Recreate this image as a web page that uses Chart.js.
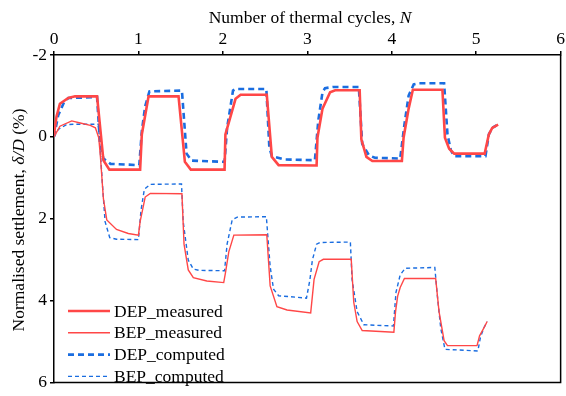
<!DOCTYPE html>
<html>
<head>
<meta charset="utf-8">
<script src="https://cdn.jsdelivr.net/npm/chart.js@4.4.1/dist/chart.umd.min.js"></script>
<style>
  html, body { margin: 0; padding: 0; background: #fff; }
  #wrap { width: 566px; height: 396px; }
</style>
</head>
<body>
<div id="wrap"><canvas id="settleChart" width="566" height="396"></canvas></div>
<script>
// tick labels
const xTicks = [0, 1, 2, 3, 4, 5, 6];
const yTicks = [-2, 0, 2, 4, 6];

// [N, settlement %]
const depMeasured = [
  [0, -0.06], [0.03, -0.5], [0.07, -0.81], [0.17, -0.95], [0.25, -0.99], [0.51, -0.99],
  [0.585, 0.57], [0.656, 0.80], [1.02, 0.80], [1.04, -0.06], [1.12, -0.99], [1.475, -0.99],
  [1.55, 0.61], [1.62, 0.80], [2.02, 0.80], [2.03, -0.06], [2.08, -0.42], [2.15, -0.93],
  [2.21, -1.03], [2.52, -1.03], [2.58, 0.49], [2.66, 0.69], [3.11, 0.70], [3.12, 0.02],
  [3.18, -0.69], [3.27, -1.09], [3.33, -1.14], [3.62, -1.14], [3.64, 0.06], [3.70, 0.49],
  [3.77, 0.59], [4.12, 0.59], [4.14, 0.02], [4.20, -0.69], [4.25, -1.15], [4.60, -1.15],
  [4.63, 0.02], [4.68, 0.29], [4.74, 0.41], [5.10, 0.41], [5.15, -0.06], [5.19, -0.22], [5.26, -0.30]
];
const bepMeasured = [
  [0, 0], [0.07, -0.26], [0.21, -0.39], [0.31, -0.34], [0.43, -0.28], [0.49, -0.22],
  [0.53, 0.02], [0.55, 0.49], [0.585, 1.51], [0.625, 2.03], [0.74, 2.26], [0.88, 2.36],
  [1.0, 2.40], [1.02, 2.07], [1.08, 1.47], [1.14, 1.38], [1.515, 1.39], [1.54, 2.62],
  [1.59, 3.25], [1.65, 3.44], [1.81, 3.52], [2.01, 3.56], [2.03, 3.33], [2.07, 2.81],
  [2.13, 2.40], [2.52, 2.39], [2.56, 3.64], [2.64, 4.15], [2.76, 4.23], [3.04, 4.30],
  [3.08, 3.48], [3.14, 3.05], [3.19, 2.99], [3.52, 2.99], [3.55, 4.04], [3.59, 4.51],
  [3.65, 4.73], [4.025, 4.77], [4.045, 4.27], [4.07, 3.89], [4.10, 3.68], [4.15, 3.46],
  [4.52, 3.46], [4.56, 4.27], [4.62, 4.98], [4.66, 5.10], [5.01, 5.10], [5.04, 4.86],
  [5.09, 4.67], [5.13, 4.51]
];
const depComputed = [
  [0, 0], [0.05, -0.53], [0.12, -0.85], [0.17, -0.95], [0.51, -0.97], [0.545, 0.17],
  [0.585, 0.53], [0.67, 0.66], [1.01, 0.69], [1.04, -0.14], [1.08, -0.75], [1.13, -1.11],
  [1.515, -1.13], [1.57, 0.41], [1.63, 0.58], [2.02, 0.61], [2.05, -0.22], [2.12, -1.13],
  [2.15, -1.17], [2.515, -1.17], [2.55, 0.25], [2.58, 0.47], [2.72, 0.55], [3.09, 0.57],
  [3.13, -0.4], [3.18, -1.09], [3.21, -1.19], [3.31, -1.22], [3.61, -1.22], [3.65, 0.17],
  [3.73, 0.45], [3.80, 0.51], [4.10, 0.53], [4.15, -0.3], [4.20, -1.01], [4.26, -1.28],
  [4.32, -1.31], [4.62, -1.31], [4.66, -0.06], [4.70, 0.33], [4.74, 0.47], [5.11, 0.47],
  [5.15, -0.06], [5.19, -0.22], [5.24, -0.28]
];
const bepComputed = [
  [0, 0], [0.05, -0.18], [0.15, -0.30], [0.23, -0.31], [0.525, -0.31], [0.545, 0.25],
  [0.575, 1.2], [0.605, 2.07], [0.66, 2.46], [0.74, 2.50], [1.0, 2.51], [1.03, 1.8],
  [1.07, 1.28], [1.14, 1.16], [1.51, 1.15], [1.53, 2.07], [1.59, 3.01], [1.65, 3.23],
  [1.72, 3.26], [2.02, 3.27], [2.05, 2.62], [2.11, 2.03], [2.17, 1.96], [2.515, 1.95],
  [2.56, 3.17], [2.60, 3.72], [2.66, 3.88], [2.99, 3.94], [3.03, 3.5], [3.06, 3.01],
  [3.11, 2.62], [3.15, 2.58], [3.51, 2.57], [3.53, 3.48], [3.59, 4.27], [3.67, 4.59],
  [4.02, 4.62], [4.05, 3.80], [4.10, 3.37], [4.16, 3.21], [4.51, 3.19], [4.54, 3.88],
  [4.58, 4.67], [4.63, 5.19], [5.02, 5.23], [5.05, 4.90], [5.09, 4.67], [5.13, 4.51]
];

const RED = '#ff4747';
const BLUE = '#1a6de0';
const FONT = '"Liberation Serif", "Times New Roman", serif';
const FS = 17.5;

const toPts = arr => arr.map(p => ({ x: p[0], y: p[1] }));

const series = [
  { label: 'DEP_measured', data: depMeasured, color: RED, width: 2.6, dash: [] },
  { label: 'BEP_measured', data: bepMeasured, color: RED, width: 1.4, dash: [] },
  { label: 'DEP_computed', data: depComputed, color: BLUE, width: 2.6, dash: [6, 4] },
  { label: 'BEP_computed', data: bepComputed, color: BLUE, width: 1.4, dash: [4, 3] }
];

// titles with italic bits, legend and the box
const extras = {
  id: 'extras',
  afterDraw(chart) {
    const ctx = chart.ctx;
    const a = chart.chartArea;
    ctx.save();
    ctx.strokeStyle = '#000';
    ctx.lineWidth = 1.5;
    ctx.beginPath();
    ctx.moveTo(a.right, a.top);
    ctx.lineTo(a.right, a.bottom);
    ctx.lineTo(a.left, a.bottom);
    ctx.stroke();

    // x title
    ctx.fillStyle = '#000';
    ctx.textBaseline = 'middle';
    const p1 = 'Number of thermal cycles, ';
    ctx.font = FS + 'px ' + FONT;
    const w1 = ctx.measureText(p1).width;
    ctx.font = 'italic ' + FS + 'px ' + FONT;
    const w2 = ctx.measureText('N').width;
    let sx = 310 - (w1 + w2) / 2;
    ctx.font = FS + 'px ' + FONT;
    ctx.textAlign = 'left';
    ctx.fillText(p1, sx, 18);
    ctx.font = 'italic ' + FS + 'px ' + FONT;
    ctx.fillText('N', sx + w1, 18);

    // y title, rotated
    const parts = [['Normalised settlement, ', false], ['\u03B4/D', true], [' (%)', false]];
    let total = 0;
    parts.forEach(p => { ctx.font = (p[1] ? 'italic ' : '') + FS + 'px ' + FONT; total += ctx.measureText(p[0]).width; });
    ctx.translate(19, 220);
    ctx.rotate(-Math.PI / 2);
    let cx = -total / 2;
    parts.forEach(p => {
      ctx.font = (p[1] ? 'italic ' : '') + FS + 'px ' + FONT;
      ctx.fillText(p[0], cx, 0);
      cx += ctx.measureText(p[0]).width;
    });
    ctx.setTransform(1, 0, 0, 1, 0, 0);

    // legend
    ctx.font = FS + 'px ' + FONT;
    chart.data.datasets.forEach((ds, i) => {
      const y = 311 + i * 21.8;
      ctx.strokeStyle = ds.borderColor;
      ctx.lineWidth = ds.borderWidth;
      ctx.setLineDash(ds.borderDash);
      ctx.beginPath();
      ctx.moveTo(68, y);
      ctx.lineTo(110, y);
      ctx.stroke();
      ctx.setLineDash([]);
      ctx.fillStyle = '#000';
      ctx.fillText(ds.label, 114, y + 1);
    });
    ctx.restore();
  }
};

new Chart(document.getElementById('settleChart'), {
  type: 'scatter',
  data: {
    datasets: series.map(s => ({
      label: s.label,
      data: toPts(s.data),
      showLine: true,
      borderColor: s.color,
      backgroundColor: s.color,
      borderWidth: s.width,
      borderDash: s.dash,
      pointRadius: 0,
      tension: 0
    }))
  },
  options: {
    responsive: false,
    animation: false,
    layout: { padding: { left: 0, top: 0, right: 4, bottom: 3 } },
    plugins: { legend: { display: false }, tooltip: { enabled: false } },
    scales: {
      x: {
        type: 'linear',
        position: 'top',
        min: 0, max: 6,
        afterBuildTicks: s => { s.ticks = xTicks.map(v => ({ value: v })); },
        afterFit: s => { s.height = 55; },
        grid: { display: true, drawOnChartArea: false, drawTicks: true, tickLength: 4, color: '#000', lineWidth: 1.5 },
        border: { display: true, color: '#000', width: 1.5 },
        ticks: { color: '#000', font: { family: FONT, size: FS }, padding: 1, maxRotation: 0 }
      },
      y: {
        type: 'linear',
        reverse: true,
        min: -2, max: 6,
        afterBuildTicks: s => { s.ticks = yTicks.map(v => ({ value: v })); },
        afterFit: s => { s.width = 54; },
        grid: { display: true, drawOnChartArea: false, drawTicks: true, tickLength: 4, color: '#000', lineWidth: 1.5 },
        border: { display: true, color: '#000', width: 1.5 },
        ticks: { color: '#000', font: { family: FONT, size: FS }, padding: 3 }
      }
    }
  },
  plugins: [extras]
});
</script>
</body>
</html>
